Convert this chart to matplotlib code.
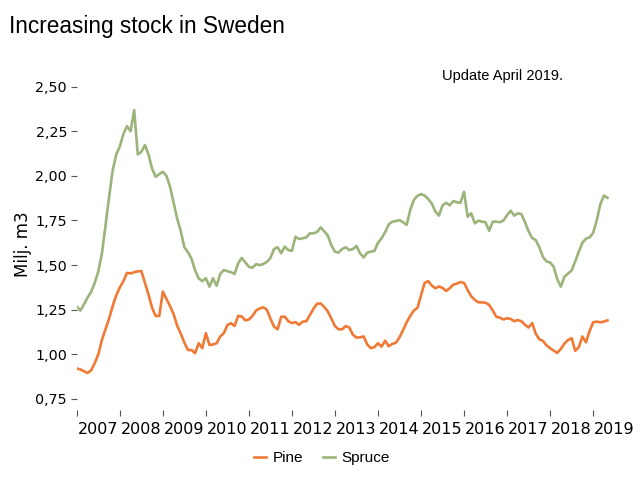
import numpy as np
import pandas as pd
import matplotlib
matplotlib.use("Agg")
import matplotlib.pyplot as plt
from matplotlib.ticker import FixedLocator, NullFormatter, FixedFormatter

# Monthly stock, million m3, from Jan 2007
pine = [0.92, 0.915, 0.905, 0.895, 0.91, 0.95, 1.00, 1.08, 1.14, 1.20, 1.27, 1.33,
        1.375, 1.41, 1.456, 1.453, 1.46, 1.465, 1.466, 1.40, 1.335, 1.26, 1.215, 1.215,
        1.351, 1.31, 1.27, 1.225, 1.16, 1.115, 1.065, 1.024, 1.024, 1.006, 1.062, 1.034,
        1.118, 1.052, 1.055, 1.062, 1.10, 1.118, 1.164, 1.174, 1.159, 1.215, 1.212, 1.19,
        1.195, 1.215, 1.245, 1.257, 1.263, 1.25, 1.20, 1.155, 1.14, 1.21, 1.211, 1.185,
        1.175, 1.18, 1.165, 1.183, 1.185, 1.22, 1.255, 1.283, 1.285, 1.265, 1.24, 1.20,
        1.158, 1.14, 1.14, 1.158, 1.15, 1.11, 1.093, 1.095, 1.10, 1.055, 1.034, 1.04,
        1.062, 1.043, 1.076, 1.045, 1.058, 1.065, 1.095, 1.135, 1.18, 1.215, 1.245, 1.26,
        1.33, 1.40, 1.41, 1.385, 1.37, 1.38, 1.372, 1.355, 1.37, 1.39, 1.396, 1.405,
        1.40, 1.36, 1.325, 1.305, 1.291, 1.291, 1.289, 1.277, 1.245, 1.21, 1.205, 1.195,
        1.202, 1.198, 1.185, 1.192, 1.185, 1.165, 1.15, 1.175, 1.115, 1.084, 1.075, 1.05,
        1.034, 1.02, 1.008, 1.03, 1.06, 1.08, 1.09, 1.019, 1.04, 1.10, 1.067, 1.13,
        1.179, 1.183, 1.179, 1.183, 1.19]

spruce = [1.267, 1.245, 1.28, 1.318, 1.35, 1.40, 1.465, 1.565, 1.72, 1.88, 2.03, 2.12,
          2.165, 2.235, 2.279, 2.25, 2.369, 2.12, 2.135, 2.173, 2.12, 2.04, 1.995, 2.01,
          2.023, 2.00, 1.94, 1.85, 1.76, 1.69, 1.60, 1.572, 1.535, 1.47, 1.425, 1.41,
          1.426, 1.379, 1.426, 1.384, 1.45, 1.472, 1.466, 1.46, 1.45, 1.51, 1.54, 1.515,
          1.49, 1.485, 1.505, 1.50, 1.506, 1.518, 1.54, 1.59, 1.60, 1.566, 1.603, 1.584,
          1.58, 1.659, 1.646, 1.65, 1.655, 1.678, 1.678, 1.685, 1.711, 1.69, 1.665, 1.61,
          1.575, 1.57, 1.59, 1.60, 1.584, 1.59, 1.607, 1.565, 1.543, 1.57, 1.575, 1.58,
          1.625, 1.65, 1.685, 1.728, 1.743, 1.747, 1.752, 1.74, 1.725, 1.81, 1.865, 1.888,
          1.898, 1.89, 1.87, 1.845, 1.80, 1.777, 1.835, 1.849, 1.835, 1.859, 1.852, 1.849,
          1.911, 1.771, 1.79, 1.734, 1.749, 1.743, 1.74, 1.692, 1.743, 1.743, 1.74, 1.75,
          1.78, 1.805, 1.777, 1.79, 1.785, 1.74, 1.69, 1.652, 1.64, 1.60, 1.545, 1.52,
          1.515, 1.49, 1.42, 1.379, 1.435, 1.452, 1.47, 1.52, 1.575, 1.625, 1.648, 1.655,
          1.68, 1.75, 1.84, 1.89, 1.877]

years = list(range(2007, 2020))
yticks = [0.75, 1.00, 1.25, 1.50, 1.75, 2.00, 2.25, 2.50]

dates = pd.date_range("2007-01-01", periods=len(pine), freq="MS")
t = dates.year + (dates.month - 1) / 12

fig = plt.figure(figsize=(6.4, 4.8), dpi=100)
ax = fig.add_axes([0.120, 0.146, 0.874, 0.692])

ax.plot(t, pine, color="#F07A35", lw=1.9, label="Pine")
ax.plot(t, spruce, color="#9BB47A", lw=1.9, label="Spruce")

ax.set_xlim(2007, 2020)
ax.set_ylim(0.688, 2.55)

for s in ax.spines.values():
    s.set_visible(False)

# year boundaries as ticks, labels centred in each year
ax.xaxis.set_major_locator(FixedLocator(years))
ax.xaxis.set_major_formatter(NullFormatter())
ax.xaxis.set_minor_locator(FixedLocator([y + 0.5 for y in years]))
ax.xaxis.set_minor_formatter(FixedFormatter([str(y) for y in years]))
ax.tick_params(axis="x", which="major", length=4, color="#555555", direction="out")
ax.tick_params(axis="x", which="minor", length=0, pad=9, labelsize=11.5)

ax.set_yticks(yticks)
ax.set_yticklabels([f"{v:.2f}".replace(".", ",") for v in yticks])
ax.tick_params(axis="y", length=4, color="#555555", pad=3, labelsize=10.3)
ax.set_ylabel("Milj. m3", fontsize=12)
ax.yaxis.set_label_coords(-0.080, 0.5)

fig.text(0.014, 0.944, "Increasing stock in Sweden", fontsize=16.3,
         family="Liberation Sans", va="center", ha="left")
fig.text(0.69, 0.842, "Update April 2019.", fontsize=10.5,
         family="Liberation Sans", va="center", ha="left")

fig.legend(loc="center", bbox_to_anchor=(0.503, 0.046), ncol=2, frameon=False,
           handlelength=0.8, columnspacing=1.3, handletextpad=0.4,
           prop={"family": "Liberation Sans", "size": 11})

fig.savefig("out.png", dpi=100)
